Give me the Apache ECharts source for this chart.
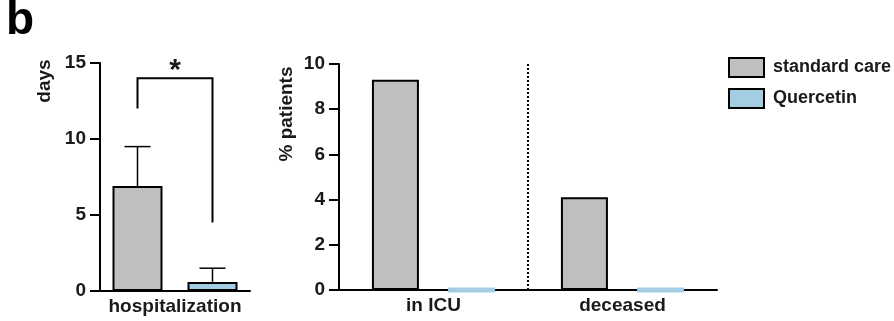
<!DOCTYPE html>
<html>
<head>
<meta charset="utf-8">
<script src="https://cdn.jsdelivr.net/npm/echarts@6/dist/echarts.min.js"></script>
<style>
html,body{margin:0;padding:0;background:#fff;}
#chart{width:894px;height:321px;}
</style>
</head>
<body>
<div id="chart"></div>
<script>
// ---- data ----
const seriesNames = ['standard care', 'Quercetin'];
const leftCategories = ['hospitalization'];
const hospStandard = [6.9];
const hospQuercetin = [0.6];
const hospStandardErrTop = [9.5];
const hospQuercetinErrTop = [1.5];
const bracketHeights = [12, 14, 4.5]; // left leg bottom, top, right leg bottom
const rightCategories = ['in ICU', 'deceased'];
const pctStandard = [9.3, 4.1];
const pctQuercetin = [0, 0];
const leftTicks = [0, 15, 5];   // min, max, interval
const rightTicks = [0, 10, 2];

// ---- styles ----
const FONT = 'Liberation Sans';
const FS = 19;
const GRAY = '#bfbfbf';
const BLUE = '#a3cde2';
const TXT = '#1a1a1a';
const LEFT_BW = 50, LEFT_GAP = 25;
const LEFT_OFF = (LEFT_BW + LEFT_GAP) / 2;

const chart = echarts.init(document.getElementById('chart'));

const axisLineStyle = {show: true, lineStyle: {color: '#000', width: 2}};
const yLabel = {color: TXT, fontFamily: FONT, fontWeight: 'bold', fontSize: FS, margin: 14};
const xLabel = {color: TXT, fontFamily: FONT, fontWeight: 'bold', fontSize: FS, margin: 6, interval: 0};

const errData = [
  [0, hospStandard[0], hospStandardErrTop[0], -1],
  [0, hospQuercetin[0], hospQuercetinErrTop[0], 1]
];

const option = {
  backgroundColor: '#fff',
  animation: false,
  title: {text: 'b', left: 1, top: -7, textStyle: {fontFamily: FONT, fontWeight: 'bold', fontSize: 46, color: '#000'}},
  legend: {
    orient: 'vertical', left: 723, top: 52, itemWidth: 35, itemHeight: 19, itemGap: 10, icon: 'rect',
    textStyle: {fontFamily: FONT, fontWeight: 'bold', fontSize: 18, color: TXT, padding: [0, 0, 0, 4]},
    data: [
      {name: seriesNames[0], itemStyle: {color: GRAY, borderColor: '#000', borderWidth: 2}},
      {name: seriesNames[1], itemStyle: {color: BLUE, borderColor: '#000', borderWidth: 2}}
    ],
    selectedMode: false
  },
  graphic: [
    {type: 'text', x: 45, y: 81, rotation: Math.PI / 2, style: {text: 'days', fontFamily: FONT, fontWeight: 'bold', fontSize: FS, fill: TXT, align: 'center', verticalAlign: 'middle'}},
    {type: 'text', x: 287, y: 114, rotation: Math.PI / 2, style: {text: '% patients', fontFamily: FONT, fontWeight: 'bold', fontSize: FS, fill: TXT, align: 'center', verticalAlign: 'middle'}}
  ],
  grid: [
    {left: 100, right: 644, top: 63, bottom: 30},
    {left: 339, right: 177, top: 64, bottom: 31}
  ],
  xAxis: [
    {type: 'category', gridIndex: 0, data: leftCategories, axisLine: axisLineStyle, axisTick: {show: false}, axisLabel: xLabel},
    {type: 'category', gridIndex: 1, data: rightCategories, axisLine: axisLineStyle, axisTick: {show: false}, axisLabel: xLabel}
  ],
  yAxis: [
    {type: 'value', gridIndex: 0, min: leftTicks[0], max: leftTicks[1], interval: leftTicks[2],
     axisLine: axisLineStyle, axisTick: {show: true, length: 10, lineStyle: {color: '#000', width: 2}},
     axisLabel: yLabel, splitLine: {show: false}},
    {type: 'value', gridIndex: 1, min: rightTicks[0], max: rightTicks[1], interval: rightTicks[2],
     axisLine: axisLineStyle, axisTick: {show: true, length: 10, lineStyle: {color: '#000', width: 2}},
     axisLabel: yLabel, splitLine: {show: false}}
  ],
  series: [
    {name: seriesNames[0], type: 'bar', xAxisIndex: 0, yAxisIndex: 0, data: hospStandard,
     barWidth: LEFT_BW, barGap: (LEFT_GAP / LEFT_BW * 100) + '%',
     itemStyle: {color: GRAY, borderColor: '#000', borderWidth: 2}},
    {name: seriesNames[1], type: 'bar', xAxisIndex: 0, yAxisIndex: 0, data: hospQuercetin,
     barWidth: LEFT_BW, barGap: (LEFT_GAP / LEFT_BW * 100) + '%',
     itemStyle: {color: BLUE, borderColor: '#000', borderWidth: 2}},
    {name: seriesNames[0], type: 'bar', xAxisIndex: 1, yAxisIndex: 1, data: pctStandard,
     barWidth: 47, barGap: '62%',
     itemStyle: {color: GRAY, borderColor: '#000', borderWidth: 2}},
    {name: seriesNames[1], type: 'bar', xAxisIndex: 1, yAxisIndex: 1, data: pctQuercetin,
     barWidth: 47, barGap: '62%',
     itemStyle: {color: BLUE, borderColor: BLUE, borderWidth: 5}},
    // error bars
    {type: 'custom', xAxisIndex: 0, yAxisIndex: 0, data: errData, z: 3,
     renderItem: function (params, api) {
       const base = api.coord([api.value(0), api.value(1)]);
       const top = api.coord([api.value(0), api.value(2)]);
       const x = base[0] + api.value(3) * LEFT_OFF;
       const st = {stroke: '#000', lineWidth: 1.5};
       return {type: 'group', children: [
         {type: 'line', shape: {x1: x, y1: base[1], x2: x, y2: top[1]}, style: st},
         {type: 'line', shape: {x1: x - 13, y1: top[1], x2: x + 13, y2: top[1]}, style: st}
       ]};
     }},
    // significance bracket
    {type: 'custom', xAxisIndex: 0, yAxisIndex: 0, data: [[0, bracketHeights[0], bracketHeights[1], bracketHeights[2]]], z: 3,
     renderItem: function (params, api) {
       const pL = api.coord([api.value(0), api.value(1)]);
       const pT = api.coord([api.value(0), api.value(2)]);
       const pR = api.coord([api.value(0), api.value(3)]);
       const xl = pL[0] - LEFT_OFF, xr = pL[0] + LEFT_OFF;
       return {type: 'group', children: [
         {type: 'polyline', shape: {points: [[xl, pL[1]], [xl, pT[1]], [xr, pT[1]], [xr, pR[1]]]},
          style: {stroke: '#000', lineWidth: 2, fill: null}},
         {type: 'text', x: pL[0], y: pT[1] + 8, style: {text: '*', fontFamily: FONT, fontWeight: 'bold', fontSize: 30, fill: TXT, align: 'center', verticalAlign: 'bottom'}}
       ]};
     }},
    // dotted separator between categories
    {type: 'custom', xAxisIndex: 1, yAxisIndex: 1, data: [[0, rightTicks[0], rightTicks[1]]], z: 1,
     renderItem: function (params, api) {
       const band = api.size([1, 0])[0];
       const a = api.coord([api.value(0), api.value(1)]);
       const b = api.coord([api.value(0), api.value(2)]);
       const x = a[0] + band / 2;
       return {type: 'line', shape: {x1: x, y1: b[1], x2: x, y2: a[1]},
               style: {stroke: '#000', lineWidth: 2, lineDash: [2, 2]}};
     }}
  ]
};
chart.setOption(option);
</script>
</body>
</html>
